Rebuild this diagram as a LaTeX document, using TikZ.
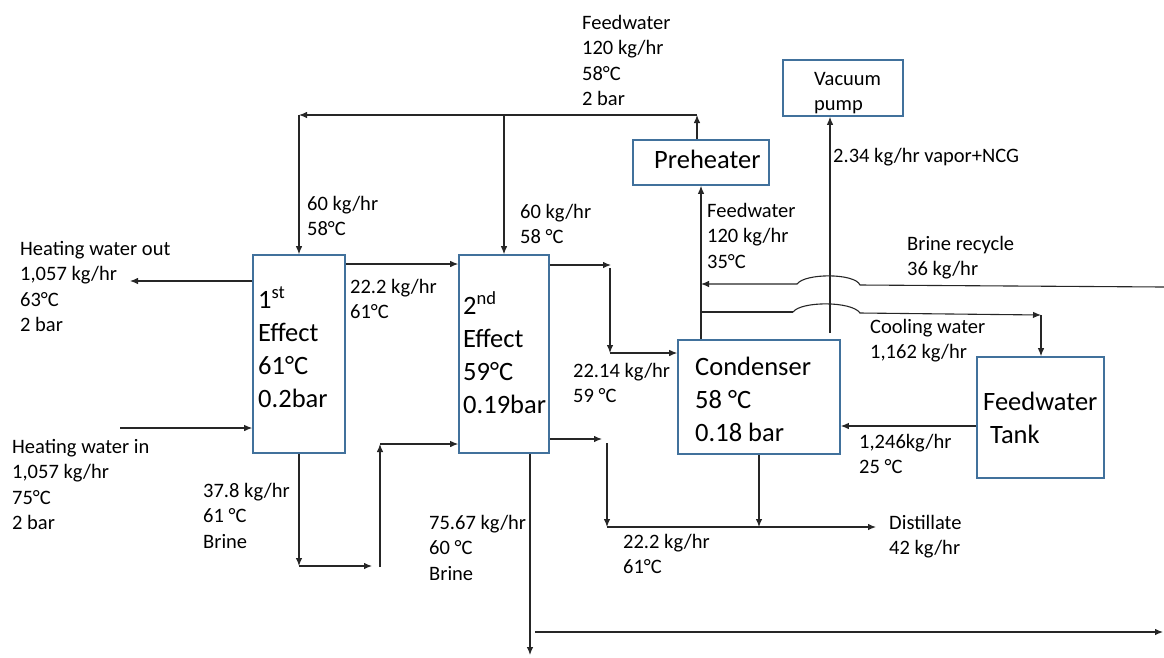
\documentclass[tikz,border=0pt]{standalone}
\usepackage{fontspec}
\setmainfont{Carlito}
\usetikzlibrary{arrows.meta}
\definecolor{boxblue}{RGB}{65,113,156}
\newcommand\mlines[1]{\begin{tabular}[t]{@{}l@{}}#1\end{tabular}}
\begin{document}
\begin{tikzpicture}[x=1pt,y=-1pt,
  box/.style={draw=boxblue, line width=1.6pt, inner sep=0pt, fill=none},
  flow/.style={draw=black!85, line width=1.1pt, -{Latex[length=8pt,width=6.5pt]}},
  plain/.style={draw=black!85, line width=1.1pt},
  lbl/.style={anchor=base west, inner sep=0pt, font=\fontsize{20.5}{25.5}\selectfont},
  big/.style={anchor=base west, inner sep=0pt, font=\fontsize{26.5}{33}\selectfont}]
\useasboundingbox (0,0) rectangle (1164,657);

% boxes
\node[box, minimum width=92pt, minimum height=198pt] (e1) at (299,354) {};
\node[box, minimum width=90pt, minimum height=198pt] (e2) at (504,354) {};
\node[box, minimum width=162pt, minimum height=114pt] (cond) at (759,397) {};
\node[box, minimum width=127pt, minimum height=121pt] (tank) at (1040.5,417.5) {};
\node[box, minimum width=136pt, minimum height=45pt] (pre) at (701,162.5) {};
\node[box, minimum width=120pt, minimum height=56pt] (vac) at (843,88) {};

% box texts
\node[big] (te1) at (258,308) {\mlines{1\textsuperscript{st}\\Effect\\61°C\\0.2bar}};
\node[big] (te2) at (463,314) {\mlines{2\textsuperscript{nd}\\Effect\\59°C\\0.19bar}};
\node[big] (tcond) at (695,375) {\mlines{Condenser\\58 °C\\0.18 bar}};
\node[big] (ttank) at (983,410) {\mlines{Feedwater\\\hspace{7pt}Tank}};
\node[big] (tpre) at (654,168) {Preheater};
\node[lbl] (tvac) at (814,85) {\mlines{Vacuum\\pump}};

% coordinates
\coordinate (topL) at (299,115);
\coordinate (topR) at (697,115);
\coordinate (tap) at (504,115);
\coordinate (v1) at (400,264);
\coordinate (hwo) at (130,281);
\coordinate (hwi) at (120,428);
\coordinate (b1a) at (299,566);
\coordinate (b1b) at (372,566);
\coordinate (b1c) at (380,567);
\coordinate (b1d) at (380,444);
\coordinate (v2a) at (611,265);
\coordinate (v2b) at (610,268);
\coordinate (v2c) at (610,353);
\coordinate (d1) at (602,439);
\coordinate (d2) at (607,443);
\coordinate (d3) at (607,527);
\coordinate (dist) at (876,527);
\coordinate (bo1) at (530,449);
\coordinate (bo2) at (530,655);
\coordinate (bo3) at (535,632);
\coordinate (bo4) at (1163,632);
\coordinate (brR) at (1164,287);
\coordinate (hop1a) at (860,285);
\coordinate (hop1b) at (797,284);
\coordinate (brE) at (701,284);
\coordinate (cwS) at (701,312);
\coordinate (hop2a) at (793,312);
\coordinate (hop2b) at (860,313);
\coordinate (cwE) at (1041,315);
\coordinate (vacin) at (830,333);
\coordinate (tc) at (900,426);

% connectors
\draw[flow] (topR |- pre.north) -- (topR);
\draw[flow] (topR) -- (topL);
\draw[flow] (topL) -- (e1.north);
\draw[flow] (tap) -- (e2.north);
\draw[flow] (e1.east |- v1) -- (e2.west |- v1);
\draw[flow] (e1.west |- hwo) -- (hwo);
\draw[flow] (hwi) -- (e1.west |- hwi);
\draw[flow] (e1.south) -- (b1a);
\draw[flow] (b1a) -- (b1b);
\draw[flow] (b1c) -- (b1d);
\draw[flow] (b1d) -- (e2.west |- b1d);
\draw[flow] (e2.east |- v2a) -- (v2a);
\draw[flow] (v2b) -- (v2c);
\draw[flow] (v2c) -- (cond.west |- v2c);
\draw[flow] (e2.east |- d1) -- (d1);
\draw[flow] (d2) -- (d3);
\draw[flow] (d3) -- (dist);
\draw[flow] (cond.south) -- (cond.south |- d3);
\draw[flow] (bo1 |- e2.south) -- (bo2);
\draw[flow] (bo3) -- (bo4);
\draw[flow] (pre.south |- cond.north) -- (pre.south);
\draw[flow] (brR) -- (hop1a) .. controls (855,273) and (805,273) .. (hop1b) -- (brE);
\draw[plain] (cwS) -- (hop2a);
\draw[flow] (hop2a) .. controls (801,301) and (852,301) .. (hop2b) -- (cwE);
\draw[flow] (cwE) -- (cwE |- tank.north);
\draw[flow] (vacin) -- (vacin |- vac.south);
\draw[flow] (tank.west |- tc) -- (cond.east |- tc);

% labels
\node[lbl] (tFeed) at (582,29) {\mlines{Feedwater\\120 kg/hr\\58°C\\2 bar}};
\node[lbl] (tf1) at (307,210) {\mlines{60 kg/hr\\58°C}};
\node[lbl] (tf2) at (520,218) {\mlines{60 kg/hr\\58 °C}};
\node[lbl] (tv1) at (350,293) {\mlines{22.2 kg/hr\\61°C}};
\node[lbl] (thwo) at (20,255) {\mlines{Heating water out\\1,057 kg/hr\\63°C\\2 bar}};
\node[lbl] (thwi) at (12,453) {\mlines{Heating water in\\1,057 kg/hr\\75°C\\2 bar}};
\node[lbl] (tb1) at (203,497) {\mlines{37.8 kg/hr\\61 °C\\Brine}};
\node[lbl] (tb2) at (429,529) {\mlines{75.67 kg/hr\\60 °C\\Brine}};
\node[lbl] (tv2) at (573,377) {\mlines{22.14 kg/hr\\59 °C}};
\node[lbl] (td) at (623,548) {\mlines{22.2 kg/hr\\61°C}};
\node[lbl] (tdist) at (889,529) {\mlines{Distillate\\42 kg/hr}};
\node[lbl] (tfw) at (707,217) {\mlines{Feedwater\\120 kg/hr\\35°C}};
\node[lbl] (tvn) at (833,162) {2.34 kg/hr vapor+NCG};
\node[lbl] (tbr) at (907,250) {\mlines{Brine recycle\\36 kg/hr}};
\node[lbl] (tcw) at (870,333) {\mlines{Cooling water\\1,162 kg/hr}};
\node[lbl] (ttk) at (859,448) {\mlines{1,246kg/hr\\25 °C}};
\end{tikzpicture}
\end{document}
